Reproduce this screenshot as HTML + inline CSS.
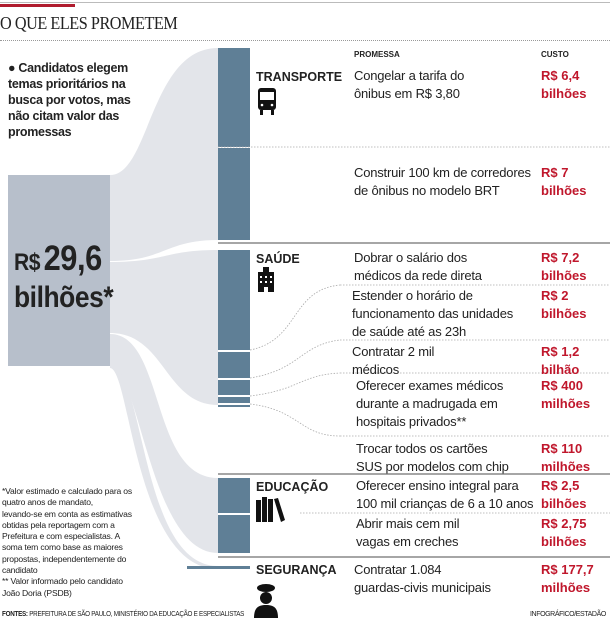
<!DOCTYPE html>
<html><head><meta charset="utf-8"><style>
body{margin:0;width:610px;height:623px;background:#fff;position:relative;overflow:hidden;font-family:"Liberation Sans",sans-serif;color:#222}
.a{position:absolute;white-space:nowrap}
.p{font-size:13px;line-height:18px;letter-spacing:-0.2px}
.c{font-size:13px;line-height:18px;font-weight:bold;color:#c0172c;left:541px}
.cat{font-size:12.5px;font-weight:bold;left:256px}
</style></head><body>
<div class="a" style="left:0;top:2px;width:610px;height:1px;background:#bbb"></div>
<div class="a" style="left:0;top:4px;width:75px;height:3px;background:#b01c2e"></div>
<div class="a" style="left:0;top:13px;font-family:'Liberation Serif',serif;font-size:18px;letter-spacing:-0.5px;transform:scaleX(0.9);transform-origin:left">O QUE ELES PROMETEM</div>
<div class="a" style="left:0;top:40px;width:610px;border-top:1px dotted #999"></div>
<svg class="a" style="left:0;top:0" width="610" height="623">
<path d="M110 175 C150 175,150 48,218 48 L218 240 C165 240,165 261,110 261Z" fill="#e3e5ea"/>
<path d="M110 262 C165 262,165 250,218 250 L218 405 C165 405,165 333,110 333Z" fill="#e3e5ea"/>
<path d="M110 334 C165 334,150 478,218 478 L218 553 C150 553,140 367,110 367Z" fill="#e3e5ea"/>
<path d="M110 366 C145 366,140 566,218 566 L218 569 C135 569,130 368,110 368Z" fill="#e3e5ea"/>
<rect x="8" y="175" width="102" height="191" fill="#b7bfcb"/>
<rect x="218" y="48" width="32" height="99" fill="#5f7f96"/>
<rect x="218" y="148" width="32" height="92" fill="#5f7f96"/>
<rect x="218" y="250" width="32" height="100" fill="#5f7f96"/>
<rect x="218" y="352" width="32" height="26" fill="#5f7f96"/>
<rect x="218" y="380" width="32" height="15" fill="#5f7f96"/>
<rect x="218" y="397" width="32" height="6" fill="#5f7f96"/>
<rect x="218" y="405" width="32" height="2" fill="#5f7f96"/>
<rect x="218" y="478" width="32" height="35" fill="#5f7f96"/>
<rect x="218" y="515" width="32" height="38" fill="#5f7f96"/>
<rect x="187" y="566" width="63" height="3" fill="#5f7f96"/>
<line x1="218" y1="243" x2="610" y2="243" stroke="#888" stroke-width="1.5"/>
<line x1="218" y1="474" x2="610" y2="474" stroke="#888" stroke-width="1.5"/>
<line x1="218" y1="557" x2="610" y2="557" stroke="#888" stroke-width="1.5"/>
<g stroke="#aaa" stroke-dasharray="1.5 1.5" fill="none" stroke-width="0.8">
<line x1="218" y1="147" x2="610" y2="147"/>
<line x1="340" y1="285" x2="610" y2="285"/>
<line x1="340" y1="340" x2="610" y2="340"/>
<line x1="340" y1="373" x2="610" y2="373"/>
<line x1="340" y1="436" x2="610" y2="436"/>
<line x1="300" y1="513" x2="610" y2="513"/>
<path d="M250 350 C300 340,290 290,340 285"/>
<path d="M250 378 C300 370,300 345,340 340"/>
<path d="M250 396 C300 390,300 375,340 373"/>
<path d="M250 404 C300 410,300 436,340 436"/>
</g>
<g fill="#111"><rect x="258" y="88" width="18" height="22" rx="3"/><rect x="260" y="110" width="3" height="5"/><rect x="271" y="110" width="3" height="5"/><rect x="260" y="92" width="14" height="8" fill="#fff"/><circle cx="262" cy="105" r="1.3" fill="#fff"/><circle cx="272" cy="105" r="1.3" fill="#fff"/></g>
<g fill="#111"><rect x="258" y="272" width="16" height="20"/><rect x="263" y="267" width="6" height="6"/><g fill="#fff"><rect x="260" y="276" width="2" height="2"/><rect x="265" y="276" width="2" height="2"/><rect x="270" y="276" width="2" height="2"/><rect x="260" y="281" width="2" height="2"/><rect x="265" y="281" width="2" height="2"/><rect x="270" y="281" width="2" height="2"/><rect x="264" y="287" width="4" height="5"/></g></g>
<g fill="#111"><rect x="256" y="500" width="5" height="22"/><rect x="262" y="497" width="5" height="25"/><rect x="268" y="499" width="5" height="23"/><path d="M274 499 L278 498 L285 520 L281 522Z"/></g>
<g fill="#111"><ellipse cx="266" cy="588" rx="9" ry="4"/><circle cx="266" cy="598" r="6"/><path d="M254 618 C254 608,258 605,266 605 C274 605,278 608,278 618Z"/></g>
</svg>
<div class="a" style="left:8px;top:60px;font-size:12.5px;line-height:16px;font-weight:bold;letter-spacing:-0.3px">● Candidatos elegem<br>temas prioritários na<br>busca por votos, mas<br>não citam valor das<br>promessas</div>
<div class="a" style="left:14px;top:243px;font-weight:bold;line-height:32px;letter-spacing:-0.5px;transform:scaleX(0.88);transform-origin:left"><span style="font-size:24px">R$</span> <span style="font-size:35px">29,6</span><br><span style="font-size:30px">bilhões*</span></div>
<div class="a" style="left:2px;top:486px;font-size:8.6px;line-height:11.3px;letter-spacing:-0.2px">*Valor estimado e calculado para os<br>quatro anos de mandato,<br>levando-se em conta as estimativas<br>obtidas pela reportagem com a<br>Prefeitura e com especialistas. A<br>soma tem como base as maiores<br>propostas, independentemente do<br>candidato<br>** Valor informado pelo candidato<br>João Doria (PSDB)</div>
<div class="a" style="left:2px;top:611px;font-size:7px;letter-spacing:-0.3px;transform:scaleX(0.9);transform-origin:left"><b>FONTES:</b> PREFEITURA DE SÃO PAULO, MINISTÉRIO DA EDUCAÇÃO E ESPECIALISTAS</div>
<div class="a" style="left:530px;top:611px;font-size:7px;letter-spacing:-0.4px">INFOGRÁFICO/ESTADÃO</div>
<div class="a" style="left:354px;top:50px;font-size:8px;font-weight:bold">PROMESSA</div>
<div class="a" style="left:541px;top:50px;font-size:8px;font-weight:bold">CUSTO</div>
<div class="a cat" style="top:70px">TRANSPORTE</div>
<div class="a cat" style="top:252px">SAÚDE</div>
<div class="a cat" style="top:480px">EDUCAÇÃO</div>
<div class="a cat" style="top:563px">SEGURANÇA</div>
<div class="a p" style="left:354px;top:67px">Congelar a tarifa do<br>ônibus em R$ 3,80</div>
<div class="a c" style="top:67px">R$ 6,4<br>bilhões</div>
<div class="a p" style="left:354px;top:164px">Construir 100 km de corredores<br>de ônibus no modelo BRT</div>
<div class="a c" style="top:164px">R$ 7<br>bilhões</div>
<div class="a p" style="left:354px;top:249px">Dobrar o salário dos<br>médicos da rede direta</div>
<div class="a c" style="top:249px">R$ 7,2<br>bilhões</div>
<div class="a p" style="left:352px;top:287px">Estender o horário de<br>funcionamento das unidades<br>de saúde até as 23h</div>
<div class="a c" style="top:287px">R$ 2<br>bilhões</div>
<div class="a p" style="left:352px;top:343px">Contratar 2 mil<br>médicos</div>
<div class="a c" style="top:343px">R$ 1,2<br>bilhão</div>
<div class="a p" style="left:356px;top:377px">Oferecer exames médicos<br>durante a madrugada em<br>hospitais privados**</div>
<div class="a c" style="top:377px">R$ 400<br>milhões</div>
<div class="a p" style="left:356px;top:440px">Trocar todos os cartões<br>SUS por modelos com chip</div>
<div class="a c" style="top:440px">R$ 110<br>milhões</div>
<div class="a p" style="left:356px;top:477px">Oferecer ensino integral para<br>100 mil crianças de 6 a 10 anos</div>
<div class="a c" style="top:477px">R$ 2,5<br>bilhões</div>
<div class="a p" style="left:356px;top:515px">Abrir mais cem mil<br>vagas em creches</div>
<div class="a c" style="top:515px">R$ 2,75<br>bilhões</div>
<div class="a p" style="left:354px;top:561px">Contratar 1.084<br>guardas-civis municipais</div>
<div class="a c" style="top:561px">R$ 177,7<br>milhões</div>
</body></html>
